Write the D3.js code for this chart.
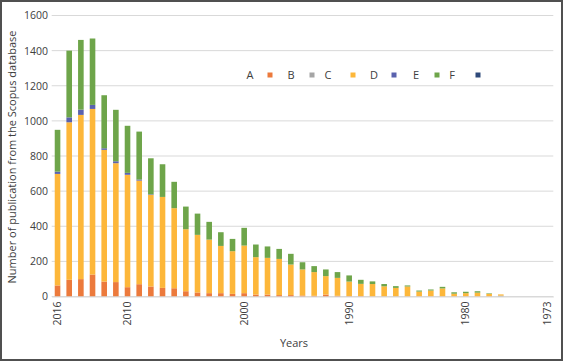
<!DOCTYPE html>
<html><head><meta charset="utf-8">
<script src="https://cdn.jsdelivr.net/npm/d3@7"></script>
<style>body{margin:0;background:#fff}svg{display:block}text{font-family:"Open Sans",sans-serif;fill:#404040}</style>
</head><body><svg id="c" width="563" height="361"></svg>
<script>
const years = [];
for (let y = 2016; y >= 2000; y--) years.push(String(y));
["1999","1998","1997","1996","1995","1994","1993","1992","1990"].forEach(y => years.push(y));
for (let y = 1989; y >= 1973; y--) years.push(String(y));
const tickYears = ["2016","2010","2000","1990","1980","1973"];
const yTicks = [0,200,400,600,800,1000,1200,1400,1600];
const seriesNames = ["A","B","C","D","E","F"];
const seriesColors = ["#EC7A3C","#A5A5A5","#FDB73A","#5A62AE","#6EA54A","#2F4A7A"];
const valA = [63,95,99,125,85,82,53,70,57,49,47,30,23,19,19,15,19,11,11,8,8,6,4,11,4,2,2,1,1,1,1,1,1,1,1,1,1,1,0,0,0,0,0];
const valB = [0,0,0,0,0,0,0,0,0,0,0,0,0,0,0,0,0,0,0,0,0,0,0,0,0,0,0,0,0,0,0,0,0,0,0,0,0,0,5,0,0,0,0];
const valC = [635,897,935,943,750,677,640,590,522,518,456,353,328,305,269,243,271,213,209,206,174,148,135,105,102,83,70,70,57,48,56,27,33,45,15,18,21,14,7,0,0,0,0];
const valD = [13,28,30,23,9,11,11,6,3,0,0,0,0,0,0,0,0,0,0,0,0,0,0,0,0,0,0,0,0,0,0,0,0,0,0,0,0,0,0,0,0,0,0];
const valE = [238,380,397,378,302,293,268,273,205,186,150,129,121,101,78,70,101,72,65,57,61,41,34,38,33,35,23,15,13,10,6,6,6,9,8,8,8,3,0,0,0,0,0];
const valF = new Array(43).fill(0);

const svg = d3.select("#c");
const W = 563, H = 361;
const rows = years.map((y, i) => ({year: y, A: valA[i], B: valB[i], C: valC[i], D: valD[i], E: valE[i], F: valF[i]}));
const x = d3.scaleBand().domain(years).range([51.7, 553.3]).paddingInner(0.52).paddingOuter(0.26);
const y = d3.scaleLinear().domain([0, 1600]).range([296.5, 15.5]);

svg.append("g").selectAll("line").data(yTicks).join("line")
  .attr("x1", 51.7).attr("x2", 553.3)
  .attr("y1", d => y(d)).attr("y2", d => y(d))
  .attr("stroke", "#d9d9d9").attr("stroke-width", 1);

const yAxis = d3.axisLeft(y).tickValues(yTicks).tickFormat(d3.format("d")).tickSize(0).tickPadding(0);
const gy = svg.append("g").attr("transform", "translate(48,0)").call(yAxis);
gy.select(".domain").remove();
gy.selectAll("text").style("font-family", "Open Sans").style("font-size", "10.5px").attr("fill", "#404040");

const stack = d3.stack().keys(seriesNames)(rows);
svg.append("g").selectAll("g").data(stack).join("g")
  .attr("fill", (d, i) => seriesColors[i])
  .selectAll("rect").data(d => d).join("rect")
  .attr("x", d => x(d.data.year))
  .attr("width", x.bandwidth())
  .attr("y", d => y(d[1]))
  .attr("height", d => Math.max(0, y(d[0]) - y(d[1])));

const xAxis = d3.axisBottom(x).tickValues(tickYears).tickSize(0).tickPadding(0);
const gx = svg.append("g").attr("transform", "translate(0,296.5)").call(xAxis);
gx.select(".domain").attr("stroke", "#d9d9d9");
gx.selectAll("text").style("font-family", "Open Sans").style("font-size", "10.5px").attr("fill", "#404040")
  .attr("transform", "rotate(-90)").attr("text-anchor", "end").attr("dy", "0.35em").attr("x", -5).attr("y", 0);

svg.append("text").attr("x", 294).attr("y", 347).attr("text-anchor", "middle")
  .style("font-size", "11px").text("Years");
svg.append("text").attr("transform", "translate(16,157) rotate(-90)").attr("text-anchor", "middle")
  .style("font-size", "11px").text("Number of publication from the Scopus database");

const legX = [250, 291, 328, 374, 416, 452];
const sqX = [270, 312, 353, 394, 437, 478];
const lg = svg.append("g");
seriesNames.forEach((n, i) => {
  lg.append("text").attr("x", legX[i]).attr("y", 75).attr("dy", "0.35em").attr("text-anchor", "middle")
    .style("font-size", "11px").text(n);
  lg.append("rect").attr("x", sqX[i] - 2.5).attr("y", 72.5).attr("width", 5).attr("height", 5).attr("fill", seriesColors[i]);
});

svg.append("rect").attr("x", 1).attr("y", 1).attr("width", W - 2).attr("height", H - 2)
  .attr("fill", "none").attr("stroke", "#505050").attr("stroke-width", 2);
</script></body></html>
